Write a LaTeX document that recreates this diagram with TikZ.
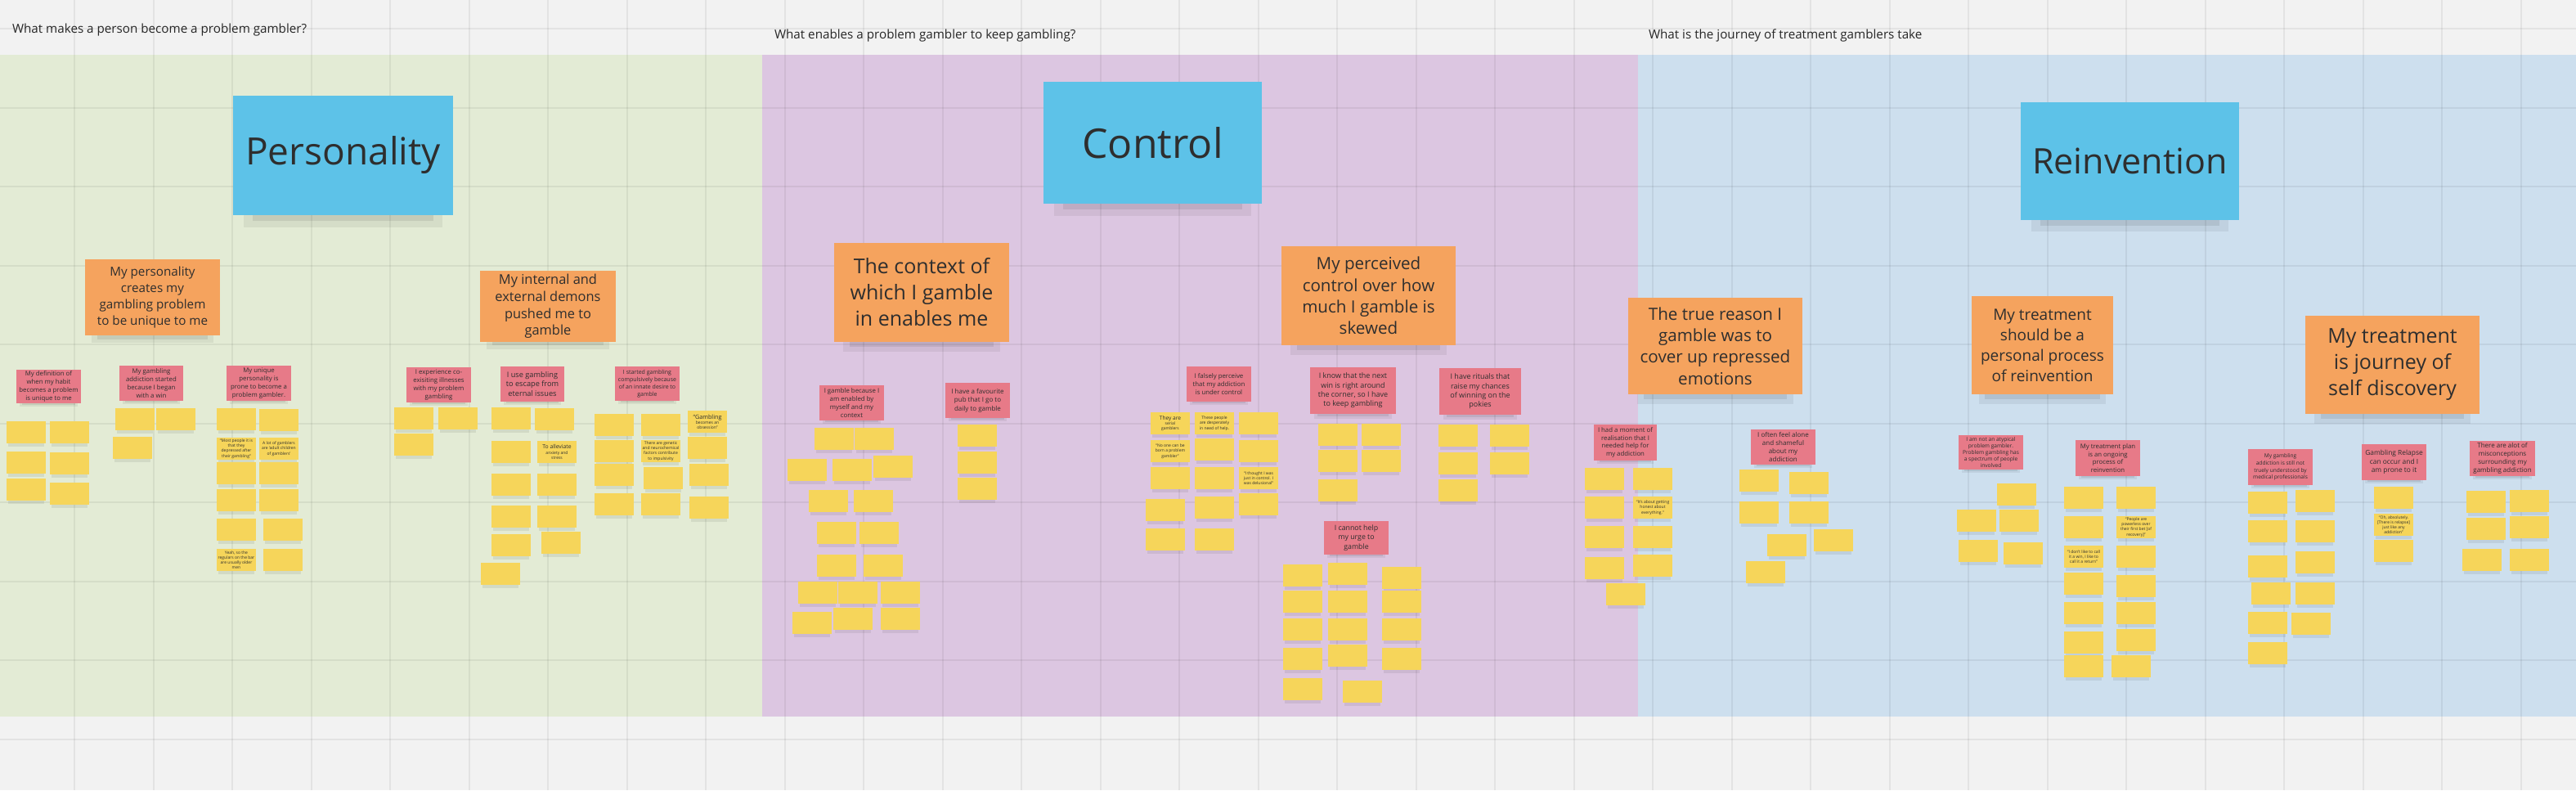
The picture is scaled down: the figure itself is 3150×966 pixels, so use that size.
\documentclass[tikz,border=0pt]{standalone}
\usepackage{fontspec}
\setmainfont{Open Sans}
\definecolor{bgc}{HTML}{F2F2F2}
\definecolor{grn}{HTML}{E3EBD5}
\definecolor{pur}{HTML}{DCC6E1}
\definecolor{blu}{HTML}{CDDFEE}
\definecolor{cyn}{HTML}{5DC2E8}
\definecolor{org}{HTML}{F5A35E}
\definecolor{pnk}{HTML}{E77A88}
\definecolor{yel}{HTML}{F6D55A}
\definecolor{txt}{HTML}{2E2E2E}
\newcounter{yc}
% #1 colour, #2 name, #3 x1, #4 y1, #5 x2, #6 y2, #7 font size, #8 baselineskip, #9 text
\newcommand\sticky[9]{%
  \fill[black,opacity=0.06] ({#3+0.05*(#5-#3)},{#6-4}) rectangle ({#5-0.05*(#5-#3)},{#6+0.1*(#6-#4)});
  \fill[black,opacity=0.08] ({#3+0.09*(#5-#3)},{#6-2}) rectangle ({#5-0.09*(#5-#3)},{#6+0.05*(#6-#4)});
  \fill[#1] (#3,#4) rectangle (#5,#6);
  \node[stickytext,font=\fontsize{#7}{#8}\selectfont] (#2) at ({(#3+#5)/2},{(#4+#6)/2}) {#9};
}
% yellow note: [text]{x}{y} (top left)
\newcommand\yn[3][]{%
  \stepcounter{yc}%
  \fill[black,opacity=0.07] ({#2+2},{#3+24}) rectangle ({#2+46},{#3+31});
  \fill[yel] (#2,#3) rectangle ({#2+48},{#3+27});
  \node[stickytext,font=\fontsize{2.5}{3.1}\selectfont] (y\theyc) at ({#2+24},{#3+13.5}) {#1};
}
\tikzset{
  stickytext/.style={align=center,text=txt,inner sep=0pt},
  question/.style={anchor=west,text=black!85,font=\fontsize{7.6}{9}\selectfont},
  gridline/.style={black,opacity=0.06,line width=1pt}
}
\begin{document}
\begin{tikzpicture}[x=0.5pt,y=-0.5pt]
\useasboundingbox (0,0) rectangle (3150,966);
\fill[bgc] (0,0) rectangle (3150,966);
\fill[grn] (0,67) rectangle (932,876);
\fill[pur] (932,67) rectangle (2003,876);
\fill[blu] (2003,67) rectangle (3150,876);
\foreach \g in {0,...,32} {\draw[gridline] ({91+96.5*\g},0) -- ({91+96.5*\g},966);}
\foreach \g in {0,...,9} {\draw[gridline] (0,{35+96.5*\g}) -- (3150,{35+96.5*\g});}

% questions
\node[question] (q1) at (8,37) {What makes a person become a problem gambler?};
\node[question] (q2) at (940,44) {What enables a problem gambler to keep gambling?};
\node[question] (q3) at (2009,44) {What is the journey of treatment gamblers take};

% theme headers
\sticky{cyn}{h1}{285}{117}{554}{263}{23}{28}{Personality}
\sticky{cyn}{h2}{1276}{100}{1543}{249}{25}{30}{Control}
\sticky{cyn}{h3}{2471}{125}{2738}{269}{21.5}{26}{Reinvention}

% orange notes
\sticky{org}{o1}{104}{317}{269}{410}{7.6}{10}{My personality\\creates my\\gambling problem\\to be unique to me}
\sticky{org}{o2}{587}{331}{753}{418}{8.2}{10.4}{My internal and\\external demons\\pushed me to\\gamble}
\sticky{org}{o3}{1020}{297}{1234}{418}{12.5}{16}{The context of\\which I gamble\\in enables me}
\sticky{org}{o4}{1567}{301}{1780}{422}{10.3}{13.2}{My perceived\\control over how\\much I gamble is\\skewed}
\sticky{org}{o5}{1991}{364}{2204}{482}{10.3}{13.2}{The true reason I\\gamble was to\\cover up repressed\\emotions}
\sticky{org}{o6}{2411}{362}{2584}{482}{9.5}{12.5}{My treatment\\should be a\\personal process\\of reinvention}
\sticky{org}{o7}{2819}{386}{3032}{506}{12.5}{16}{My treatment\\is journey of\\self discovery}

% pink notes
\sticky{pnk}{p1}{20}{452}{99}{493}{3.9}{4.9}{My definition of\\when my habit\\becomes a problem\\is unique to me}
\sticky{pnk}{p2}{146}{447}{224}{490}{3.9}{4.9}{My gambling\\addiction started\\because I began\\with a win}
\sticky{pnk}{p3}{277}{447}{356}{490}{3.9}{4.9}{My unique\\personality is\\prone to become a\\problem gambler.}
\sticky{pnk}{p4}{497}{449}{576}{492}{3.9}{4.9}{I experience co-\\exisiting illnesses\\with my problem\\gambling}
\sticky{pnk}{p5}{612}{448}{690}{491}{4.6}{5.8}{I use gambling\\to escape from\\eternal issues}
\sticky{pnk}{p6}{752}{448}{831}{490}{3.5}{4.4}{I started gambling\\compulsively because\\of an innate desire to\\gamble}
\sticky{pnk}{c1}{1002}{471}{1081}{514}{3.9}{4.9}{I gamble because I\\am enabled by\\myself and my\\context}
\sticky{pnk}{c2}{1156}{468}{1235}{511}{4.0}{5.2}{I have a favourite\\pub that I go to\\daily to gamble}
\sticky{pnk}{c3}{1451}{448}{1530}{491}{3.9}{4.9}{I falsely perceive\\that my addiction\\is under control}
\sticky{pnk}{c4}{1602}{449}{1707}{506}{4.5}{5.7}{I know that the next\\win is right around\\the corner, so I have\\to keep gambling}
\sticky{pnk}{c5}{1760}{450}{1860}{507}{4.5}{5.7}{I have rituals that\\raise my chances\\of winning on the\\pokies}
\sticky{pnk}{c6}{1619}{637}{1698}{678}{4.4}{5.6}{I cannot help\\my urge to\\gamble}
\sticky{pnk}{r1}{1949}{519}{2026}{563}{3.9}{4.9}{I had a moment of\\realisation that I\\needed help for\\my addiction}
\sticky{pnk}{r2}{2141}{525}{2220}{568}{4.0}{5.0}{I often feel alone\\and shameful\\about my\\addiction}
\sticky{pnk}{r3}{2395}{532}{2474}{574}{3.3}{4.1}{I am not an atypical\\problem gambler.\\Problem gambling has\\a spectrum of people\\involved}
\sticky{pnk}{r4}{2538}{538}{2617}{582}{3.9}{4.9}{My treatment plan\\is an ongoing\\process of\\reinvention}
\sticky{pnk}{r5}{2749}{549}{2828}{593}{3.3}{4.4}{My gambling\\addiction is still not\\truely understood by\\medical professionals}
\sticky{pnk}{r6}{2888}{543}{2967}{587}{4.2}{5.3}{Gambling Relapse\\can occur and I\\am prone to it}
\sticky{pnk}{r7}{3020}{539}{3100}{582}{4.0}{5.0}{There are alot of\\misconceptions\\surrounding my\\gambling addiction}

% ---- yellow notes: Personality
\yn{8}{515}\yn{61}{515}\yn{8}{552}\yn{61}{553}\yn{8}{585}\yn{61}{590}
\yn{141}{499}\yn{191}{499}\yn{138}{534}
\yn{265}{499}\yn[{``Most people it is\\that they\\depressed after\\their gambling''}]{265}{535}\yn{265}{565}\yn{265}{598}\yn{265}{634}\yn[{Yeah, so the\\regulars on the bar\\are usually older\\men}]{265}{671}
\yn{317}{500}\yn[{A lot of gamblers\\are `adult children\\of gamblers'}]{317}{535}\yn{317}{565}\yn{317}{598}\yn{322}{634}\yn{322}{671}
\yn{482}{498}\yn{536}{498}\yn{482}{530}
\yn{601}{498}\yn{601}{539}\yn{601}{579}\yn{601}{618}\yn{601}{653}\yn{588}{688}
\yn{654}{499}\yn[{\fontsize{3.4}{4.2}\selectfont To alleviate\\anxiety and\\stress}]{657}{539}\yn{657}{579}\yn{657}{618}\yn{662}{650}
\yn{727}{506}\yn{727}{538}\yn{727}{567}\yn{727}{603}
\yn{784}{506}\yn[{There are genetic\\and neurochemical\\factors contribute\\to impulsivity}]{784}{538}\yn{787}{571}\yn{784}{603}
\yn[{\fontsize{3.6}{4.4}\selectfont ``Gambling\\becomes an\\obsession''}]{841}{502}\yn{841}{534}\yn{843}{567}\yn{843}{607}

% ---- yellow notes: Control
\yn{996}{523}\yn{1045}{523}\yn{963}{561}\yn{1018}{561}\yn{1068}{557}
\yn{989}{599}\yn{1044}{599}\yn{999}{638}\yn{1051}{638}\yn{999}{678}\yn{1056}{678}
\yn{976}{711}\yn{1025}{711}\yn{1077}{711}\yn{969}{748}\yn{1019}{743}\yn{1077}{743}
\yn{1171}{519}\yn{1171}{552}\yn{1171}{584}
\yn[{\fontsize{3.3}{4}\selectfont They are\\serial\\gamblers}]{1407}{504}\yn[{``No one can be\\born a problem\\gambler''}]{1407}{538}\yn{1407}{571}\yn{1401}{610}\yn{1401}{646}
\yn[{These people\\are desperately\\in need of help.}]{1461}{504}\yn{1461}{536}\yn{1461}{571}\yn{1461}{607}\yn{1461}{646}
\yn{1515}{504}\yn{1515}{538}\yn[{``I thought I was\\just in control. I\\was delusional''}]{1515}{571}\yn{1515}{603}
\yn{1612}{518}\yn{1612}{550}\yn{1612}{586}\yn{1665}{518}\yn{1665}{550}
\yn{1759}{519}\yn{1759}{553}\yn{1759}{586}\yn{1822}{519}\yn{1822}{553}
\yn{1569}{690}\yn{1569}{722}\yn{1569}{756}\yn{1569}{792}\yn{1569}{829}
\yn{1624}{688}\yn{1624}{722}\yn{1624}{756}\yn{1624}{788}\yn{1642}{832}
\yn{1690}{693}\yn{1690}{722}\yn{1690}{756}\yn{1690}{792}

% ---- yellow notes: Reinvention
\yn{1938}{572}\yn{1938}{607}\yn{1938}{643}\yn{1938}{681}
\yn{1997}{572}\yn[{``It's about getting\\honest about\\everything.''}]{1997}{607}\yn{1997}{643}\yn{1997}{678}\yn{1964}{713}
\yn{2127}{574}\yn{2188}{577}\yn{2127}{613}\yn{2188}{613}\yn{2161}{653}\yn{2218}{647}\yn{2135}{686}
\yn{2442}{591}\yn{2393}{623}\yn{2445}{623}\yn{2395}{660}\yn{2450}{663}
\yn{2524}{595}\yn{2524}{631}\yn[{``I don't like to call\\it a win, I like to\\call it a return''}]{2524}{667}\yn{2524}{700}\yn{2524}{736}\yn{2524}{772}\yn{2524}{801}
\yn{2588}{595}\yn[{``People are\\powerless over\\their first bet [of\\recovery]''}]{2588}{631}\yn{2588}{667}\yn{2588}{703}\yn{2588}{736}\yn{2588}{769}\yn{2582}{801}
\yn{2749}{601}\yn{2749}{636}\yn{2749}{679}\yn{2753}{712}\yn{2749}{748}\yn{2749}{785}
\yn{2807}{599}\yn{2807}{636}\yn{2807}{674}\yn{2807}{712}\yn{2802}{749}
\yn{2903}{595}\yn[{``Oh, absolutely.\\{[There is relapse]}\\just like any\\addiction''}]{2903}{628}\yn{2903}{660}
\yn{3016}{600}\yn{3016}{633}\yn{3011}{671}\yn{3069}{599}\yn{3069}{631}\yn{3069}{671}
\end{tikzpicture}
\end{document}
